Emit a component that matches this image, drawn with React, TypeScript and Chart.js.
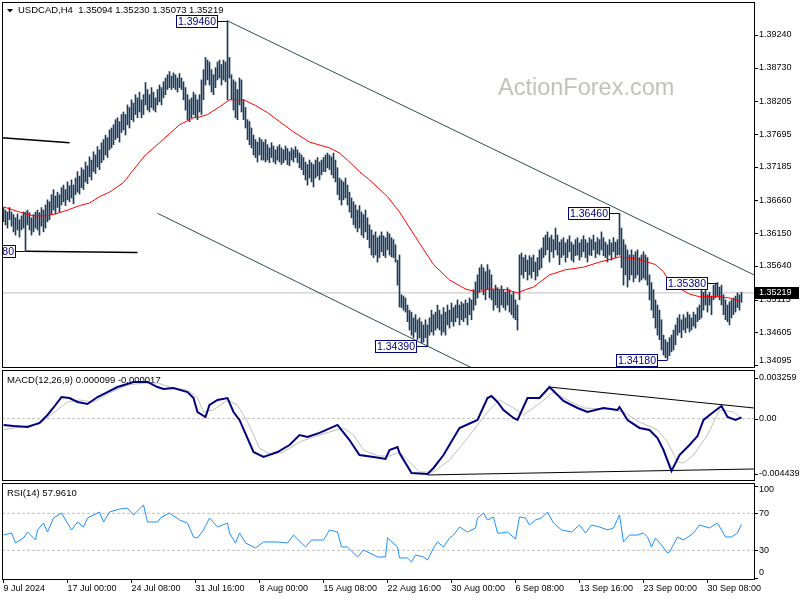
import React, { useEffect, useRef } from "react";
import { Chart, registerables } from "chart.js";

Chart.register(...registerables);

const FONT = "'Liberation Sans', Arial, sans-serif";

// ---------------- data ----------------
const symbolName = "USDCAD,H4";
const lastOHLC = [1.35094, 1.3523, 1.35073, 1.35219];
const lastPrice = 1.35219;

const xTickIndex = [0, 32, 64, 96, 128, 160, 192, 224, 256, 288, 320, 352];
const xTickLabels = [
  "9 Jul 2024", "17 Jul 00:00", "24 Jul 08:00", "31 Jul 16:00", "8 Aug 00:00", "15 Aug 08:00",
  "22 Aug 16:00", "30 Aug 00:00", "6 Sep 08:00", "13 Sep 16:00", "23 Sep 00:00", "30 Sep 08:00",
];

const priceTicks = [1.3924, 1.3873, 1.38205, 1.37695, 1.37185, 1.3666, 1.3615, 1.3564, 1.35115, 1.34605, 1.34095];
const macdTicks = [0.003259, 0, -0.004439];
const macdTickLabels = ["0.003259", "0.00", "-0.004439"];
const rsiTicks = [100, 70, 30, 0];
const rsiLevels = [70, 30];

// H4 bars: highs and lows (one value per bar)
const barHigh = [
  1.3655, 1.3651, 1.3648, 1.3655, 1.3648, 1.3644, 1.3639, 1.3645, 1.3636, 1.3642,
  1.3648, 1.3648, 1.3651, 1.3647, 1.3639, 1.3644, 1.3648, 1.3651, 1.3647, 1.3655,
  1.3651, 1.3659, 1.3667, 1.3664, 1.3675, 1.3683, 1.3673, 1.3679, 1.3675, 1.3686,
  1.3690, 1.3683, 1.3695, 1.3689, 1.3698, 1.3690, 1.3701, 1.3711, 1.3704, 1.3717,
  1.3714, 1.3726, 1.3720, 1.3734, 1.3729, 1.3742, 1.3737, 1.3750, 1.3745, 1.3756,
  1.3761, 1.3768, 1.3764, 1.3776, 1.3779, 1.3784, 1.3792, 1.3795, 1.3789, 1.3800,
  1.3804, 1.3800, 1.3815, 1.3811, 1.3823, 1.3818, 1.3831, 1.3826, 1.3835, 1.3823,
  1.3831, 1.3850, 1.3839, 1.3831, 1.3842, 1.3835, 1.3826, 1.3839, 1.3846, 1.3842,
  1.3851, 1.3857, 1.3862, 1.3867, 1.3860, 1.3865, 1.3862, 1.3857, 1.3864, 1.3857,
  1.3851, 1.3842, 1.3831, 1.3823, 1.3826, 1.3835, 1.3831, 1.3823, 1.3831, 1.3854,
  1.3870, 1.3889, 1.3885, 1.3882, 1.3870, 1.3862, 1.3873, 1.3882, 1.3885, 1.3878,
  1.3885, 1.3882, 1.3946, 1.3889, 1.3862, 1.3854, 1.3851, 1.3839, 1.3857, 1.3854,
  1.3823, 1.3811, 1.3792, 1.3789, 1.3779, 1.3768, 1.3761, 1.3757, 1.3764, 1.3761,
  1.3757, 1.3761, 1.3753, 1.3748, 1.3756, 1.3751, 1.3745, 1.3750, 1.3753, 1.3748,
  1.3745, 1.3751, 1.3747, 1.3742, 1.3748, 1.3745, 1.3750, 1.3745, 1.3740, 1.3737,
  1.3733, 1.3726, 1.3722, 1.3729, 1.3725, 1.3722, 1.3729, 1.3733, 1.3726, 1.3729,
  1.3733, 1.3737, 1.3740, 1.3737, 1.3734, 1.3740, 1.3729, 1.3717, 1.3701, 1.3698,
  1.3695, 1.3701, 1.3690, 1.3679, 1.3670, 1.3664, 1.3659, 1.3651, 1.3658, 1.3648,
  1.3644, 1.3651, 1.3639, 1.3628, 1.3620, 1.3612, 1.3617, 1.3608, 1.3611, 1.3617,
  1.3611, 1.3608, 1.3617, 1.3614, 1.3608, 1.3605, 1.3597, 1.3573, 1.3581, 1.3519,
  1.3517, 1.3514, 1.3503, 1.3495, 1.3492, 1.3483, 1.3488, 1.3480, 1.3483, 1.3477,
  1.3472, 1.3480, 1.3472, 1.3483, 1.3495, 1.3488, 1.3492, 1.3503, 1.3495, 1.3488,
  1.3499, 1.3492, 1.3503, 1.3495, 1.3506, 1.3499, 1.3503, 1.3511, 1.3503, 1.3508,
  1.3505, 1.3511, 1.3506, 1.3514, 1.3511, 1.3527, 1.3539, 1.3550, 1.3561, 1.3566,
  1.3561, 1.3555, 1.3566, 1.3558, 1.3550, 1.3527, 1.3534, 1.3530, 1.3527, 1.3533,
  1.3527, 1.3523, 1.3530, 1.3527, 1.3519, 1.3523, 1.3511, 1.3503, 1.3581, 1.3584,
  1.3577, 1.3581, 1.3573, 1.3580, 1.3577, 1.3581, 1.3570, 1.3577, 1.3589, 1.3592,
  1.3608, 1.3612, 1.3617, 1.3608, 1.3612, 1.3605, 1.3623, 1.3612, 1.3601, 1.3605,
  1.3608, 1.3600, 1.3605, 1.3611, 1.3601, 1.3597, 1.3605, 1.3608, 1.3600, 1.3605,
  1.3611, 1.3605, 1.3600, 1.3608, 1.3605, 1.3612, 1.3601, 1.3608, 1.3605, 1.3617,
  1.3608, 1.3601, 1.3597, 1.3605, 1.3600, 1.3608, 1.3601, 1.3605, 1.3646, 1.3623,
  1.3605, 1.3597, 1.3589, 1.3581, 1.3589, 1.3581, 1.3586, 1.3589, 1.3577, 1.3581,
  1.3586, 1.3581, 1.3577, 1.3550, 1.3538, 1.3527, 1.3511, 1.3503, 1.3495, 1.3480,
  1.3456, 1.3449, 1.3445, 1.3452, 1.3456, 1.3464, 1.3472, 1.3483, 1.3488, 1.3480,
  1.3488, 1.3483, 1.3492, 1.3488, 1.3483, 1.3492, 1.3488, 1.3499, 1.3503, 1.3527,
  1.3523, 1.3527, 1.3519, 1.3523, 1.3517, 1.3534, 1.3537, 1.3538, 1.3531, 1.3534,
  1.3519, 1.3511, 1.3503, 1.3508, 1.3511, 1.3514, 1.3517, 1.3522, 1.3519, 1.3523,
];
const barLow = [
  1.3633, 1.3628, 1.3623, 1.3636, 1.3626, 1.3617, 1.3612, 1.3620, 1.3609, 1.3620,
  1.3623, 1.3588, 1.3628, 1.3620, 1.3612, 1.3617, 1.3623, 1.3620, 1.3612, 1.3626,
  1.3617, 1.3623, 1.3633, 1.3636, 1.3644, 1.3651, 1.3645, 1.3655, 1.3648, 1.3659,
  1.3664, 1.3658, 1.3667, 1.3664, 1.3670, 1.3661, 1.3675, 1.3679, 1.3676, 1.3686,
  1.3683, 1.3695, 1.3692, 1.3703, 1.3698, 1.3711, 1.3708, 1.3718, 1.3714, 1.3725,
  1.3729, 1.3737, 1.3733, 1.3745, 1.3748, 1.3753, 1.3761, 1.3764, 1.3757, 1.3772,
  1.3776, 1.3768, 1.3784, 1.3779, 1.3792, 1.3789, 1.3800, 1.3795, 1.3804, 1.3795,
  1.3800, 1.3815, 1.3807, 1.3804, 1.3811, 1.3807, 1.3804, 1.3815, 1.3820, 1.3815,
  1.3826, 1.3831, 1.3839, 1.3842, 1.3839, 1.3842, 1.3839, 1.3835, 1.3842, 1.3839,
  1.3823, 1.3807, 1.3792, 1.3789, 1.3795, 1.3800, 1.3795, 1.3792, 1.3804, 1.3800,
  1.3823, 1.3846, 1.3854, 1.3846, 1.3835, 1.3831, 1.3842, 1.3854, 1.3857, 1.3846,
  1.3854, 1.3851, 1.3823, 1.3857, 1.3823, 1.3807, 1.3795, 1.3792, 1.3815, 1.3804,
  1.3792, 1.3779, 1.3761, 1.3753, 1.3748, 1.3737, 1.3733, 1.3726, 1.3737, 1.3729,
  1.3729, 1.3726, 1.3729, 1.3725, 1.3733, 1.3726, 1.3723, 1.3729, 1.3726, 1.3722,
  1.3725, 1.3729, 1.3722, 1.3720, 1.3729, 1.3726, 1.3733, 1.3725, 1.3717, 1.3714,
  1.3706, 1.3698, 1.3690, 1.3701, 1.3695, 1.3687, 1.3701, 1.3704, 1.3698, 1.3706,
  1.3711, 1.3711, 1.3717, 1.3714, 1.3706, 1.3701, 1.3695, 1.3675, 1.3667, 1.3659,
  1.3667, 1.3670, 1.3659, 1.3648, 1.3639, 1.3628, 1.3623, 1.3617, 1.3623, 1.3612,
  1.3608, 1.3617, 1.3605, 1.3592, 1.3581, 1.3577, 1.3581, 1.3570, 1.3577, 1.3586,
  1.3580, 1.3577, 1.3589, 1.3581, 1.3578, 1.3577, 1.3570, 1.3534, 1.3500, 1.3499,
  1.3495, 1.3492, 1.3477, 1.3464, 1.3456, 1.3452, 1.3461, 1.3449, 1.3452, 1.3444,
  1.3445, 1.3452, 1.3439, 1.3456, 1.3461, 1.3456, 1.3464, 1.3467, 1.3464, 1.3456,
  1.3461, 1.3456, 1.3472, 1.3467, 1.3477, 1.3470, 1.3477, 1.3483, 1.3472, 1.3480,
  1.3477, 1.3483, 1.3472, 1.3488, 1.3480, 1.3495, 1.3503, 1.3514, 1.3523, 1.3527,
  1.3519, 1.3511, 1.3527, 1.3514, 1.3511, 1.3495, 1.3503, 1.3499, 1.3492, 1.3503,
  1.3499, 1.3495, 1.3503, 1.3492, 1.3488, 1.3483, 1.3480, 1.3464, 1.3511, 1.3550,
  1.3545, 1.3555, 1.3542, 1.3550, 1.3545, 1.3555, 1.3542, 1.3548, 1.3558, 1.3561,
  1.3577, 1.3581, 1.3589, 1.3570, 1.3586, 1.3577, 1.3589, 1.3581, 1.3566, 1.3577,
  1.3581, 1.3570, 1.3577, 1.3586, 1.3573, 1.3570, 1.3580, 1.3581, 1.3573, 1.3578,
  1.3586, 1.3577, 1.3570, 1.3581, 1.3580, 1.3589, 1.3577, 1.3583, 1.3581, 1.3589,
  1.3580, 1.3577, 1.3570, 1.3581, 1.3573, 1.3586, 1.3577, 1.3581, 1.3581, 1.3561,
  1.3534, 1.3550, 1.3531, 1.3542, 1.3550, 1.3539, 1.3545, 1.3550, 1.3539, 1.3542,
  1.3545, 1.3542, 1.3534, 1.3511, 1.3495, 1.3483, 1.3467, 1.3456, 1.3449, 1.3433,
  1.3425, 1.3421, 1.3418, 1.3424, 1.3430, 1.3433, 1.3441, 1.3456, 1.3460, 1.3452,
  1.3464, 1.3460, 1.3467, 1.3461, 1.3464, 1.3470, 1.3467, 1.3477, 1.3480, 1.3483,
  1.3495, 1.3503, 1.3492, 1.3503, 1.3488, 1.3511, 1.3514, 1.3517, 1.3511, 1.3503,
  1.3488, 1.3480, 1.3477, 1.3472, 1.3483, 1.3488, 1.3492, 1.3499, 1.3495, 1.35073,
];

// Moving average (red)
const maIndex = [
  0, 8, 15, 21, 26, 32, 38, 43, 48, 53, 60, 65, 71, 78, 88, 95, 98, 102, 108, 113,
  120, 126, 132, 138, 145, 153, 163, 168, 172, 178, 183, 192, 198, 206, 215, 223, 231, 237, 243, 251,
  257, 261, 265, 273, 281, 290, 298, 308, 316, 322, 326, 330, 333, 337, 343, 348, 353, 358, 363, 368,
];
const maValue = [
  1.3656, 1.3648, 1.3642, 1.3642, 1.3645, 1.3651, 1.3658, 1.3662, 1.3672, 1.3679,
  1.3694, 1.3714, 1.3737, 1.3756, 1.3784, 1.3795, 1.3796, 1.38, 1.3812, 1.3823,
  1.3823, 1.3814, 1.3803, 1.3789, 1.3773, 1.3757, 1.3748, 1.374, 1.3729, 1.3711,
  1.3698, 1.3672, 1.3648, 1.3609, 1.3566, 1.3542, 1.3528, 1.3523, 1.3528, 1.3527,
  1.3522, 1.3527, 1.3531, 1.355, 1.3558, 1.3562, 1.357, 1.3578, 1.3575, 1.357,
  1.3566, 1.3555, 1.3539, 1.3531, 1.352, 1.3516, 1.3516, 1.3516, 1.3514, 1.3509,
];

// swing high / low labels
const swingIndex = [112, 308, 212, 332, 357, 11];
const swingValue = [1.3946, 1.3646, 1.3439, 1.3418, 1.3538, 1.3588];

// drawn trend lines (main window)
const channelUpperIdx = [112, 375.25];
const channelUpperVal = [1.3946, 1.355];
const channelLowerIdx = [77, 240];
const channelLowerVal = [1.3646, 1.3396];
const leftLineTopIdx = [-0.75, 33];
const leftLineTopVal = [1.3764, 1.3756];
const leftLineMidIdx = [11, 67];
const leftLineMidVal = [1.3587, 1.3585];

// MACD(12,26,9)
const macdLegend = "MACD(12,26,9) 0.000099 -0.000017";
const macdIndex = [
  0, 5, 12, 18, 22, 26, 29, 33, 37, 42, 47, 50, 57, 65, 72, 77, 80, 85, 92, 95,
  97, 101, 103, 107, 112, 115, 118, 125, 130, 137, 143, 148, 152, 158, 167, 173, 178, 185, 191, 193,
  197, 198, 204, 212, 215, 220, 228, 237, 242, 244, 247, 250, 255, 257, 262, 268, 273, 280, 287, 292,
  300, 307, 308, 312, 318, 323, 327, 330, 334, 338, 343, 347, 350, 355, 359, 362, 366, 369,
];
const macdValue = [
  -0.00051, -0.00059, -0.00067, -0.00035, 0.00029, 0.00109, 0.00173, 0.00165, 0.00133, 0.00117,
  0.00173, 0.00197, 0.00253, 0.00294, 0.00294, 0.00253, 0.00237, 0.00245, 0.00213, 0.00165,
  0.00053, 0.00013, 0.00109, 0.00149, 0.00165, 0.00053, -0.00011, -0.00268, -0.00308, -0.00268,
  -0.00212, -0.00132, -0.00148, -0.00115, -0.00051, -0.00172, -0.00292, -0.00308, -0.00324, -0.00252,
  -0.00228, -0.00276, -0.00436, -0.00444, -0.00396, -0.00292, -0.00076, -0.00011, 0.00165, 0.00181,
  0.00133, 0.00069, 0.00005, -0.00011, 0.00165, 0.00165, 0.00253, 0.00141, 0.00085, 0.00053,
  0.00085, 0.00069, 0.00093, -0.00011, -0.00075, -0.00091, -0.00156, -0.00252, -0.0042, -0.00292,
  -0.00212, -0.0014, -0.00011, 0.00053, 0.00101, 0.00013, -0.00011, 0.000099,
];
const signalIndex = [
  0, 8, 18, 25, 32, 38, 45, 53, 62, 70, 77, 85, 92, 97, 100, 105, 112, 117, 122, 128,
  133, 140, 148, 155, 163, 170, 175, 180, 187, 193, 198, 203, 208, 215, 223, 232, 242, 248, 255, 260,
  267, 275, 282, 290, 302, 310, 318, 327, 332, 337, 340, 345, 352, 358, 365, 369,
];
const signalValue = [
  -0.00091, -0.00067, -0.00043, 0.00045, 0.00133, 0.00149, 0.00133, 0.00205, 0.00269, 0.00285,
  0.00285, 0.00245, 0.00229, 0.00165, 0.00053, 0.00069, 0.00149, 0.00109, -0.00027, -0.00236,
  -0.00284, -0.00268, -0.00188, -0.00148, -0.00107, -0.00075, -0.00131, -0.00252, -0.003, -0.003,
  -0.00268, -0.00348, -0.00428, -0.00428, -0.00332, -0.00156, 0.00053, 0.00149, 0.00085, 0.00029,
  0.00109, 0.00213, 0.00149, 0.00085, 0.00077, 0.00053, -0.00027, -0.00091, -0.00188, -0.00348,
  -0.00356, -0.00292, -0.00131, 0.00069, 0.00053, -0.000017,
];
const macdTrendUpperIdx = [273, 375.25];
const macdTrendUpperVal = [0.00253, 0.00085];
const macdTrendLowerIdx = [212, 375.25];
const macdTrendLowerVal = [-0.00452, -0.00404];

// RSI(14)
const rsiLegend = "RSI(14) 57.9610";
const rsiIndex = [
  0, 4, 6, 10, 12, 16, 17, 20, 22, 25, 29, 34, 37, 40, 42, 48, 50, 53, 58, 62,
  65, 70, 72, 77, 79, 83, 88, 92, 95, 97, 100, 103, 107, 112, 113, 116, 118, 121, 126, 130,
  137, 142, 145, 151, 154, 160, 163, 167, 169, 172, 177, 180, 187, 191, 192, 197, 198, 202, 204, 206,
  210, 212, 215, 217, 220, 223, 225, 228, 232, 236, 237, 240, 242, 245, 247, 249, 252, 256, 258, 261,
  263, 266, 269, 272, 275, 279, 284, 288, 291, 294, 298, 302, 305, 308, 310, 313, 317, 320, 322, 324,
  326, 329, 332, 333, 337, 340, 345, 348, 353, 357, 361, 364, 367, 369,
];
const rsiValue = [
  46.5, 48.7, 37.9, 43.3, 49.8, 41.1, 52.0, 59.5, 49.8, 64.9, 70.3, 52.0, 60.6, 55.2, 64.9, 71.4, 60.6, 71.4, 74.6, 75.7,
  68.2, 79.0, 60.6, 60.6, 66.0, 70.3, 62.8, 59.5, 44.4, 43.3, 52.0, 64.9, 55.2, 59.5, 48.7, 37.9, 48.7, 37.9, 32.5, 39.0,
  39.0, 37.9, 46.5, 33.6, 41.1, 41.1, 52.0, 49.8, 33.6, 33.6, 22.8, 30.3, 22.8, 22.8, 43.3, 33.6, 21.7, 21.7, 17.4, 24.9,
  22.8, 19.5, 32.5, 39.0, 33.6, 43.3, 46.5, 55.2, 49.8, 54.1, 64.9, 70.3, 62.8, 66.0, 48.7, 48.7, 49.8, 42.2, 66.0, 64.9,
  57.4, 62.8, 64.9, 71.4, 59.5, 52.0, 49.8, 57.4, 48.7, 57.4, 55.2, 52.0, 54.1, 68.2, 39.0, 46.5, 46.5, 48.7, 44.4, 33.6,
  43.3, 35.7, 27.0, 28.1, 44.4, 41.1, 48.7, 57.4, 54.1, 59.5, 44.4, 44.4, 48.7, 57.961,
];

// ---------------- layout constants ----------------
const X_MIN = -0.75;
const X_MAX = 375.25;
const AXIS_W = 46;
const MAIN_MIN = 1.340638;
const MAIN_MAX = 1.397545;
const MACD_MIN = -0.0049243;
const MACD_MAX = 0.0038977;
const RSI_MIN = -1.02;
const RSI_MAX = 102.75;

const BAR_COLOR = "#1b3b5a";
const NAVY = "#000080";
const SILVER = "#c0c0c0";
const AXIS_FONT = `9px ${FONT}`;

const pts = (xs: number[], ys: number[]) => xs.map((x, k) => ({ x, y: ys[k] }));

const lineDs = (data: any[], color: string, width: number, order: number, dash: number[] = []) => ({
  type: "line" as const,
  data,
  borderColor: color,
  backgroundColor: color,
  borderWidth: width,
  borderDash: dash,
  pointRadius: 0,
  pointHoverRadius: 0,
  fill: false,
  tension: 0,
  order,
});

const xHidden = { type: "linear", min: X_MIN, max: X_MAX, display: false, offset: false, bounds: "data" };

const yRight = (min: number, max: number) => ({
  type: "linear",
  position: "right",
  min,
  max,
  bounds: "data",
  grid: { display: false },
  border: { display: false },
  ticks: { display: false },
  afterFit: (s: any) => {
    s.width = AXIS_W;
  },
});

function drawBorder(chart: any) {
  const { ctx, chartArea: a } = chart;
  ctx.save();
  ctx.strokeStyle = "#000";
  ctx.lineWidth = 1;
  ctx.setLineDash([]);
  ctx.strokeRect(a.left + 0.5, a.top + 0.5, a.right - a.left, a.bottom - a.top);
  ctx.restore();
}

function drawRightAxis(chart: any, values: number[], labels: string[]) {
  const { ctx, chartArea: a } = chart;
  const y = chart.scales.y;
  ctx.save();
  ctx.font = AXIS_FONT;
  ctx.fillStyle = "#000";
  ctx.strokeStyle = "#000";
  ctx.lineWidth = 1;
  ctx.textAlign = "left";
  ctx.textBaseline = "middle";
  values.forEach((v, k) => {
    const py = y.getPixelForValue(v);
    if (py >= a.top && py <= a.bottom) {
      const ly = Math.round(py) + 0.5;
      ctx.beginPath();
      ctx.moveTo(a.right, ly);
      ctx.lineTo(a.right + 4, ly);
      ctx.stroke();
    }
    const ty = Math.min(Math.max(py, a.top + 7), a.bottom - 6);
    ctx.fillText(labels[k], a.right + 5, ty);
  });
  ctx.restore();
}

function drawLegend(chart: any, text: string, y: number) {
  const { ctx } = chart;
  ctx.save();
  ctx.font = `9.5px ${FONT}`;
  ctx.fillStyle = "#000";
  ctx.textAlign = "left";
  ctx.textBaseline = "middle";
  ctx.fillText(text, 7, y);
  ctx.restore();
}

const mainDecor = {
  id: "mainDecor",
  beforeDatasetsDraw(chart: any) {
    const { ctx } = chart;
    ctx.save();
    ctx.font = `23.5px ${FONT}`;
    ctx.fillStyle = "#c4c0bc";
    ctx.textAlign = "left";
    ctx.textBaseline = "alphabetic";
    ctx.fillText("ActionForex.com", 498, 95);
    // header
    ctx.fillStyle = "#000";
    ctx.beginPath();
    ctx.moveTo(7, 9);
    ctx.lineTo(13, 9);
    ctx.lineTo(10, 12.5);
    ctx.closePath();
    ctx.fill();
    ctx.font = `9.5px ${FONT}`;
    ctx.textBaseline = "middle";
    ctx.fillText(`${symbolName}  ${lastOHLC.map((v) => v.toFixed(5)).join(" ")}`, 18, 10.5);
    ctx.restore();
  },
  afterDatasetsDraw(chart: any) {
    const { ctx, chartArea: a, scales } = chart;
    const xs = scales.x;
    const ys = scales.y;
    // swing labels
    ctx.save();
    ctx.beginPath();
    ctx.rect(a.left + 1, a.top + 1, a.right - a.left - 1, a.bottom - a.top - 1);
    ctx.clip();
    ctx.font = `10.5px ${FONT}`;
    ctx.textAlign = "center";
    ctx.textBaseline = "middle";
    swingIndex.forEach((idx, k) => {
      const v = swingValue[k];
      const px = xs.getPixelForValue(idx);
      const py = Math.round(ys.getPixelForValue(v)) + 0.5;
      const text = v.toFixed(5);
      const w = Math.round(ctx.measureText(text).width) + 4;
      const right = Math.round(px) - 10;
      ctx.strokeStyle = NAVY;
      ctx.lineWidth = 1;
      ctx.beginPath();
      ctx.moveTo(right, py);
      ctx.lineTo(px, py);
      ctx.stroke();
      ctx.fillStyle = "#fff";
      ctx.fillRect(right - w, py - 6, w, 12);
      ctx.strokeRect(right - w + 0.5, py - 6, w - 1, 12);
      ctx.fillStyle = NAVY;
      ctx.fillText(text, right - w / 2, py + 0.5);
    });
    ctx.restore();
    drawBorder(chart);
    drawRightAxis(chart, priceTicks, priceTicks.map((v) => v.toFixed(5)));
    // current price box
    const py = ys.getPixelForValue(lastPrice);
    ctx.save();
    ctx.fillStyle = "#000";
    ctx.fillRect(a.right + 1, Math.round(py) - 6, AXIS_W - 2, 12);
    ctx.fillStyle = "#fff";
    ctx.font = AXIS_FONT;
    ctx.textAlign = "left";
    ctx.textBaseline = "middle";
    ctx.fillText(lastPrice.toFixed(5), a.right + 5, Math.round(py));
    ctx.restore();
  },
};

const macdDecor = {
  id: "macdDecor",
  beforeDatasetsDraw(chart: any) {
    drawLegend(chart, macdLegend, 11);
  },
  afterDatasetsDraw(chart: any) {
    drawBorder(chart);
    drawRightAxis(chart, macdTicks, macdTickLabels);
  },
};

const rsiDecor = {
  id: "rsiDecor",
  beforeDatasetsDraw(chart: any) {
    drawLegend(chart, rsiLegend, 11);
  },
  afterDatasetsDraw(chart: any) {
    drawBorder(chart);
    drawRightAxis(chart, rsiTicks, rsiTicks.map((v) => String(v)));
  },
};

const baseOptions = (padding: any) => ({
  responsive: false,
  maintainAspectRatio: false,
  devicePixelRatio: 1,
  animation: false,
  events: [],
  layout: { padding },
  plugins: { legend: { display: false }, tooltip: { enabled: false } },
});

function mainConfig(): any {
  return {
    type: "bar",
    data: {
      datasets: [
        lineDs(pts(maIndex, maValue), "#ff0000", 1, 0),
        lineDs(pts(channelUpperIdx, channelUpperVal), "#2f4f4f", 1, 1),
        lineDs(pts(channelLowerIdx, channelLowerVal), "#2f4f4f", 1, 1),
        lineDs(pts(leftLineTopIdx, leftLineTopVal), "#000000", 1.5, 1),
        lineDs(pts(leftLineMidIdx, leftLineMidVal), "#000000", 1.5, 1),
        {
          type: "bar",
          data: barHigh.map((h, i) => ({ x: i, y: [barLow[i], h] })),
          backgroundColor: BAR_COLOR,
          borderWidth: 0,
          barThickness: 1,
          grouped: false,
          order: 3,
        },
        lineDs(pts([X_MIN, X_MAX], [lastPrice, lastPrice]), SILVER, 1, 4),
      ],
    },
    options: {
      ...baseOptions({ left: 2, top: 2, right: 0, bottom: 2 }),
      scales: { x: xHidden, y: yRight(MAIN_MIN, MAIN_MAX) },
    },
    plugins: [mainDecor],
  };
}

function macdConfig(): any {
  return {
    type: "line",
    data: {
      datasets: [
        lineDs(pts(macdIndex, macdValue), NAVY, 2, 0),
        lineDs(pts(signalIndex, signalValue), SILVER, 1, 1),
        lineDs(pts(macdTrendUpperIdx, macdTrendUpperVal), "#000000", 1, 2),
        lineDs(pts(macdTrendLowerIdx, macdTrendLowerVal), "#000000", 1, 2),
        lineDs(pts([X_MIN, X_MAX], [0, 0]), SILVER, 1, 3, [3, 2]),
      ],
    },
    options: {
      ...baseOptions({ left: 2, top: 1, right: 0, bottom: 2 }),
      scales: { x: xHidden, y: yRight(MACD_MIN, MACD_MAX) },
    },
    plugins: [macdDecor],
  };
}

function rsiConfig(): any {
  return {
    type: "line",
    data: {
      datasets: [
        lineDs(pts(rsiIndex, rsiValue), "#1e90ff", 1, 0),
        ...rsiLevels.map((lv) => lineDs(pts([X_MIN, X_MAX], [lv, lv]), SILVER, 1, 2, [3, 2])),
      ],
    },
    options: {
      ...baseOptions({ left: 2, top: 1, right: 0, bottom: 0 }),
      scales: {
        x: {
          type: "linear",
          min: X_MIN,
          max: X_MAX,
          bounds: "data",
          offset: false,
          position: "bottom",
          afterBuildTicks: (s: any) => {
            s.ticks = xTickIndex.map((v) => ({ value: v }));
          },
          afterFit: (s: any) => {
            s.height = 21;
          },
          grid: { display: true, drawOnChartArea: false, drawTicks: true, tickLength: 4, color: "#000", lineWidth: 1, offset: false },
          border: { display: false },
          ticks: {
            autoSkip: false,
            maxRotation: 0,
            minRotation: 0,
            align: "start",
            padding: 0,
            color: "#000",
            font: { family: FONT, size: 9 },
            callback: (v: any) => {
              const k = xTickIndex.indexOf(Number(v));
              return k >= 0 ? xTickLabels[k] : "";
            },
          },
        },
        y: yRight(RSI_MIN, RSI_MAX),
      },
    },
    plugins: [rsiDecor],
  };
}

export default function App() {
  const mainRef = useRef<HTMLCanvasElement>(null);
  const macdRef = useRef<HTMLCanvasElement>(null);
  const rsiRef = useRef<HTMLCanvasElement>(null);

  useEffect(() => {
    Chart.defaults.font.family = FONT;
    const charts = [
      new Chart(mainRef.current as HTMLCanvasElement, mainConfig()),
      new Chart(macdRef.current as HTMLCanvasElement, macdConfig()),
      new Chart(rsiRef.current as HTMLCanvasElement, rsiConfig()),
    ];
    return () => charts.forEach((c) => c.destroy());
  }, []);

  const cv = (top: number, height: number) => ({
    position: "absolute" as const,
    left: 0,
    top,
    width: 800,
    height,
    display: "block",
  });

  return (
    <div style={{ position: "fixed", left: 0, top: 0, width: 800, height: 600, background: "#fff", overflow: "hidden" }}>
      <canvas ref={mainRef} width={800} height={369} style={cv(0, 369)} />
      <canvas ref={macdRef} width={800} height={113} style={cv(369, 113)} />
      <canvas ref={rsiRef} width={800} height={118} style={cv(482, 118)} />
    </div>
  );
}
